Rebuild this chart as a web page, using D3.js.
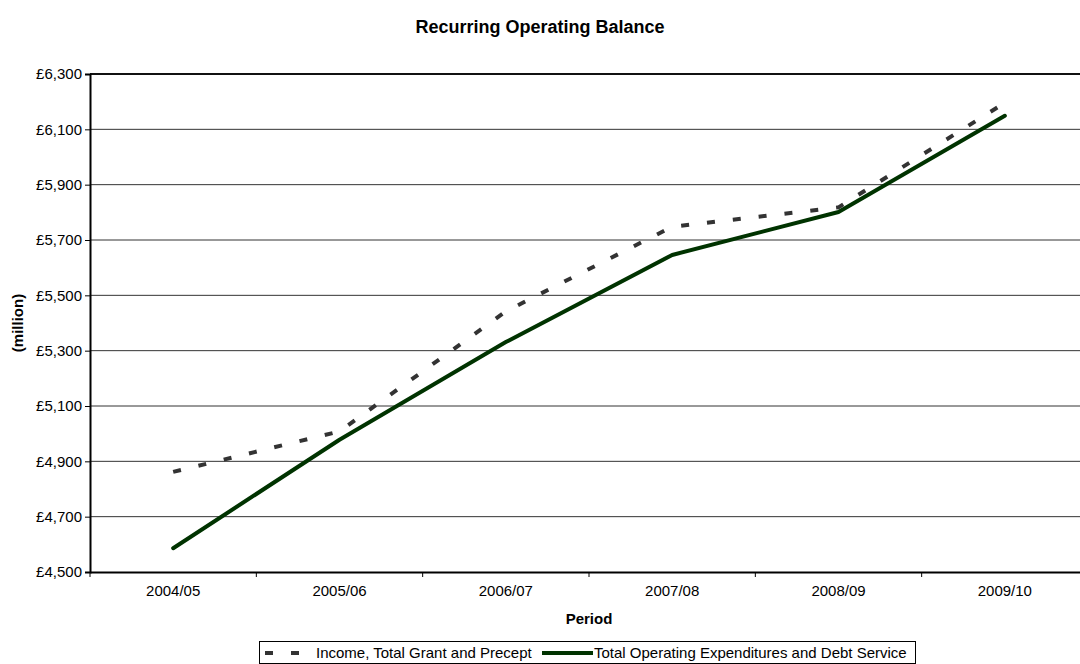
<!DOCTYPE html>
<html>
<head>
<meta charset="utf-8">
<script src="https://cdn.jsdelivr.net/npm/d3@7"></script>
<style>
  body { margin: 0; background: #fff; }
  svg { display: block; font-family: "Liberation Sans", Arial, sans-serif; }
</style>
</head>
<body>
<script>
// data
const periods = ['2004/05', '2005/06', '2006/07', '2007/08', '2008/09', '2009/10'];
const income = [4862, 5008, 5442, 5748, 5818, 6196];
const expenditure = [4586, 4978, 5331, 5646, 5801, 6149];
const yTicks = [4500, 4700, 4900, 5100, 5300, 5500, 5700, 5900, 6100, 6300];
const seriesNames = ['Income, Total Grant and Precept', 'Total Operating Expenditures and Debt Service'];

const width = 1080, height = 664;
const plot = { left: 90, right: 1088, top: 74, bottom: 572 };
const font = '"Liberation Sans", Arial, sans-serif';

const svg = d3.select('body').append('svg')
    .attr('width', width)
    .attr('height', height);

const x = d3.scaleBand().domain(periods).range([plot.left, plot.right]).padding(0);
const y = d3.scaleLinear().domain([4500, 6300]).range([plot.bottom, plot.top]);
const fmt = d => '£' + d3.format(',')(d);

// gridlines
svg.append('g')
    .selectAll('line')
    .data(yTicks.slice(1))
    .enter().append('line')
    .attr('x1', plot.left).attr('x2', plot.right)
    .attr('y1', d => y(d)).attr('y2', d => y(d))
    .attr('stroke-width', d => d === 6300 ? 2 : 1)
    .attr('stroke', d => d === 6300 ? '#111' : '#333');

// y axis
const yAxis = svg.append('g')
    .attr('transform', `translate(${plot.left},0)`)
    .call(d3.axisLeft(y).tickValues(yTicks).tickFormat(fmt).tickSize(5).tickPadding(3));
yAxis.select('.domain').attr('stroke', '#000').attr('stroke-width', 2);
yAxis.selectAll('.tick line').attr('stroke', '#000');
yAxis.selectAll('text').attr('font-size', 15).attr('fill', '#000').attr('font-family', font);

// x axis
const xAxis = svg.append('g')
    .attr('transform', `translate(0,${plot.bottom})`)
    .call(d3.axisBottom(x).tickSize(0).tickPadding(13));
xAxis.select('.domain').attr('stroke', '#000').attr('stroke-width', 2);
xAxis.selectAll('text').attr('font-size', 15).attr('fill', '#000').attr('font-family', font);
svg.append('g').selectAll('line')
    .data(periods)
    .enter().append('line')
    .attr('x1', d => x(d)).attr('x2', d => x(d))
    .attr('y1', plot.bottom).attr('y2', plot.bottom + 5)
    .attr('stroke', '#000');

// lines
const line = d3.line()
    .x((d, i) => x(periods[i]) + x.bandwidth() / 2)
    .y(d => y(d));

svg.append('path')
    .datum(income)
    .attr('d', line)
    .attr('fill', 'none')
    .attr('stroke', '#333')
    .attr('stroke-width', 4)
    .attr('stroke-dasharray', '8,18');

svg.append('path')
    .datum(expenditure)
    .attr('d', line)
    .attr('fill', 'none')
    .attr('stroke', '#003300')
    .attr('stroke-width', 4)
    .attr('stroke-linejoin', 'round')
    .attr('stroke-linecap', 'round');

// titles
svg.append('text')
    .attr('x', 540).attr('y', 33)
    .attr('text-anchor', 'middle')
    .attr('font-size', 18).attr('font-weight', 'bold')
    .text('Recurring Operating Balance');

svg.append('text')
    .attr('x', (plot.left + plot.right) / 2).attr('y', 624)
    .attr('text-anchor', 'middle')
    .attr('font-size', 15).attr('font-weight', 'bold')
    .text('Period');

svg.append('text')
    .attr('transform', `translate(23,${(plot.top + plot.bottom) / 2}) rotate(-90)`)
    .attr('text-anchor', 'middle')
    .attr('font-size', 15).attr('font-weight', 'bold')
    .text('(million)');

// legend
const legend = svg.append('g');
legend.append('rect')
    .attr('x', 259.5).attr('y', 641.5)
    .attr('width', 656).attr('height', 22)
    .attr('fill', '#fff').attr('stroke', '#000');
legend.append('line')
    .attr('x1', 265).attr('x2', 300).attr('y1', 653).attr('y2', 653)
    .attr('stroke', '#333').attr('stroke-width', 4)
    .attr('stroke-dasharray', '8,18');
legend.append('text')
    .attr('x', 316).attr('y', 658)
    .attr('font-size', 15)
    .text(seriesNames[0]);
legend.append('line')
    .attr('x1', 542).attr('x2', 593).attr('y1', 653).attr('y2', 653)
    .attr('stroke', '#003300').attr('stroke-width', 4);
legend.append('text')
    .attr('x', 594).attr('y', 658)
    .attr('font-size', 15)
    .text(seriesNames[1]);
</script>
</body>
</html>
